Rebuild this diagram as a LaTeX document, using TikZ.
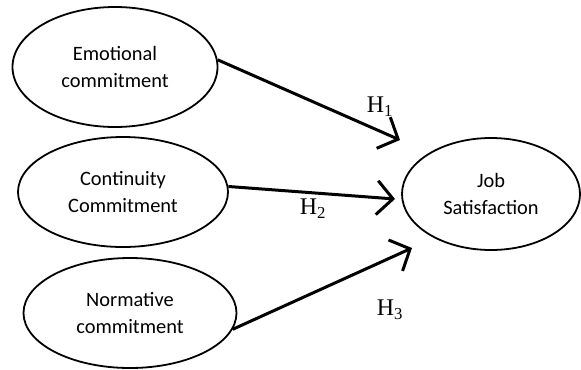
\documentclass[tikz,border=0pt]{standalone}
\usepackage{fontspec}
\setmainfont{Carlito}
\newfontfamily\hfont{Liberation Serif}
\usetikzlibrary{shapes.geometric,arrows.meta}
\begin{document}
\begin{tikzpicture}[x=1bp,y=-1bp,
  construct/.style={ellipse,draw,line width=1.8bp,inner sep=0pt,align=center,font=\fontsize{20.5}{28}\selectfont},
  arr/.style={line width=3bp,-{Straight Barb[length=16bp,width=34bp]}},
  hyp/.style={font=\hfont\fontsize{24}{26}\selectfont}]
\useasboundingbox (0,0) rectangle (581,369);
\node[construct,minimum width=205bp,minimum height=120bp] (e1) at (115,67) {Emotional\\commitment};
\node[construct,minimum width=210bp,minimum height=110bp] (e2) at (123,192) {Continuity\\Commitment};
\node[construct,minimum width=213bp,minimum height=110bp] (e3) at (130,313) {Normative\\commitment};
\node[construct,minimum width=178bp,minimum height=112bp] (job) at (491,194) {Job\\Satisfaction};
\coordinate (t1) at (400,140);
\coordinate (t2) at (395,199);
\coordinate (t3) at (412,248);
\draw[arr] (e1.4) -- (t1);
\draw[arr] (e2.3) -- (t2);
\draw[arr] (e3.-9) -- (t3);
\node[hyp] (h1) at (380,107) {H\textsubscript{1}};
\node[hyp] (h2) at (313,209) {H\textsubscript{2}};
\node[hyp] (h3) at (390,310) {H\textsubscript{3}};
\end{tikzpicture}
\end{document}
